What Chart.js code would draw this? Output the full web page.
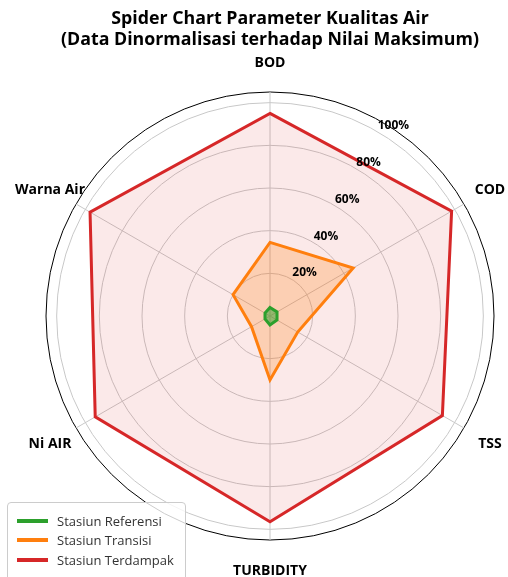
<!DOCTYPE html>
<html>
<head>
<meta charset="utf-8">
<script src="https://cdn.jsdelivr.net/npm/chart.js@4.4.1/dist/chart.umd.min.js"></script>
<style>
  html, body { margin: 0; padding: 0; background: #fff; overflow: hidden; }
  #wrap { position: relative; width: 508px; height: 577px; }
  #legend {
    position: absolute; left: 7px; top: 502px; width: 179px; height: 90px;
    box-sizing: border-box; padding-top: 8px;
    border: 1px solid #cccccc; border-radius: 4px;
    background: rgba(255, 255, 255, 0.8);
    font: 13px "Open Sans"; color: #333;
  }
  .item { display: flex; align-items: center; height: 19.5px; white-space: nowrap; }
  .swatch { width: 31px; height: 4px; margin-left: 9px; margin-right: 9px; }
</style>
</head>
<body>
<div id="wrap">
  <canvas id="radar" width="508" height="577"></canvas>
  <div id="legend"></div>
</div>
<script>
// axis names and series (percent of the maximum value)
const labels = ['BOD', 'COD', 'TSS', 'TURBIDITY', 'Ni AIR', 'Warna Air'];
const seriesNames = ['Stasiun Referensi', 'Stasiun Transisi', 'Stasiun Terdampak'];
const referensi = [4, 3.8, 3.8, 4.2, 2.7, 2.7];
const transisi = [34.5, 45, 15, 30, 10, 20];
const terdampak = [95, 98.3, 93.3, 96.5, 94.6, 97.4];
const tickValues = [20, 40, 60, 80, 100];
const scaleMax = 105;

const lineColors = ['#2ca02c', '#ff7f0e', '#d62728'];
const fillColors = ['rgba(44,160,44,0.5)', 'rgba(255,127,14,0.25)', 'rgba(214,39,40,0.1)'];

// point labels and the % ticks, drawn at angles the built-in scale can't do
const radarText = {
  id: 'radarText',
  afterDraw(chart) {
    const r = chart.scales.r;
    const ctx = chart.ctx;
    ctx.save();
    ctx.fillStyle = '#000';
    ctx.font = 'bold 14px "Open Sans"';
    ctx.textAlign = 'center';
    ctx.textBaseline = 'middle';
    chart.data.labels.forEach(function (lab, i) {
      let p = r.getPointPosition(i, r.drawingArea + 30);
      ctx.fillText(lab, p.x, p.y + 1.5);
    });
    ctx.font = 'bold 12px "Open Sans"';
    ctx.textAlign = 'left';
    ctx.textBaseline = 'bottom';
    tickValues.forEach(function (v) {
      let p = r.getPointPositionForValue(0.5, v);
      ctx.fillText(v + '%', p.x + 1, p.y);
    });
    ctx.restore();
  }
};

let series = [referensi, transisi, terdampak];
let datasets = series.map(function (vals, i) {
  return {
    label: seriesNames[i],
    data: vals,
    borderColor: lineColors[i],
    backgroundColor: fillColors[i],
    borderWidth: 3,
    fill: true,
    pointRadius: 0,
    tension: 0
  };
});

new Chart(document.getElementById('radar').getContext('2d'), {
  type: 'radar',
  data: { labels: labels, datasets: datasets },
  plugins: [radarText],
  options: {
    responsive: false,
    animation: false,
    layout: { padding: { left: 46, right: 14, top: 0, bottom: 36 } },
    plugins: {
      legend: { display: false },
      tooltip: { enabled: false },
      title: {
        display: true,
        text: ['Spider Chart Parameter Kualitas Air', '(Data Dinormalisasi terhadap Nilai Maksimum)'],
        color: '#000',
        font: { family: 'Open Sans', size: 17.8, weight: 'bold', lineHeight: 1.2 },
        padding: { top: 8, bottom: 41 }
      }
    },
    scales: {
      r: {
        min: 0,
        max: scaleMax,
        afterBuildTicks: function (scale) {
          scale.ticks = [0].concat(tickValues, [scaleMax]).map(function (v) { return { value: v }; });
        },
        ticks: { display: false },
        pointLabels: { display: false },
        grid: {
          circular: true,
          lineWidth: 1,
          color: function (c) { return c.tick && c.tick.value === scaleMax ? '#000' : '#c8c8c8'; }
        },
        angleLines: { color: '#c8c8c8', lineWidth: 1 }
      }
    }
  }
});

// legend
let $legend = document.getElementById('legend');
seriesNames.forEach(function (name, i) {
  let row = document.createElement('div');
  row.className = 'item';
  row.innerHTML = '<span class="swatch" style="background:' + lineColors[i] + '"></span><span>' + name + '</span>';
  $legend.appendChild(row);
});
</script>
</body>
</html>
